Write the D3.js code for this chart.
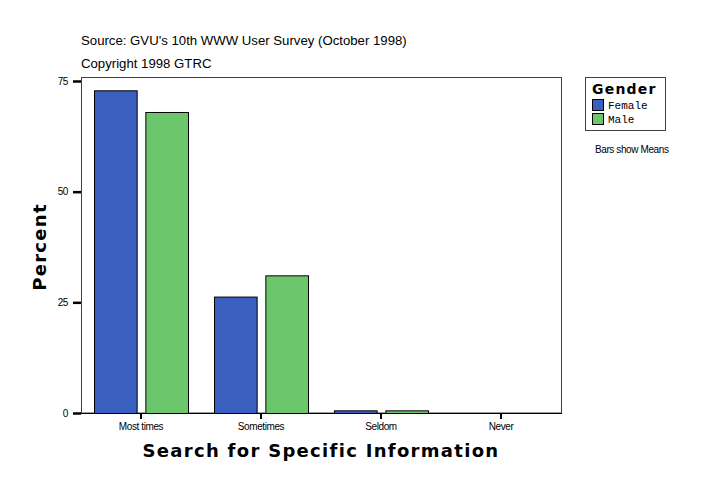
<!DOCTYPE html>
<html>
<head>
<meta charset="utf-8">
<script src="https://cdn.jsdelivr.net/npm/d3@7"></script>
<style>
  body { margin: 0; background: #fff; }
  svg { display: block; }
  .small { font-family: "Liberation Sans", Arial, sans-serif; font-size: 10px; letter-spacing: -0.4px; }
  .note { font-family: "Liberation Sans", Arial, sans-serif; font-size: 13.2px; letter-spacing: 0px; }
  .big { font-family: "DejaVu Sans", sans-serif; font-weight: 900; font-size: 18px; letter-spacing: 1.3px; }
</style>
</head>
<body>
<div id="chart"></div>
<script>
// chart data
const categories = ["Most times", "Sometimes", "Seldom", "Never"];
const groups = ["Female", "Male"];
const female = [72.9, 26.3, 0.6, 0];
const male = [68.0, 31.1, 0.6, 0];
const yTicks = [0, 25, 50, 75];
const colors = ["#3a5fbf", "#6cc76c"];

const W = 724, H = 496;
const m = { left: 81, right: 163, top: 81, bottom: 83 };

const svg = d3.select("#chart").append("svg")
    .attr("width", W)
    .attr("height", H);

const x = d3.scaleBand().domain(categories).range([m.left, W - m.right]).paddingInner(0).paddingOuter(0);
const xIn = d3.scaleBand().domain(groups).range([13, x.bandwidth() - 13]).paddingInner(0.17);
const y = d3.scaleLinear().domain([0, 75]).range([H - m.bottom, m.top]);

// plot frame
svg.append("rect")
    .attr("x", m.left + 0.5).attr("y", 77.5)
    .attr("width", W - m.right - m.left).attr("height", H - m.bottom - 77.5)
    .attr("fill", "none").attr("stroke", "#404040");

// bars
const rows = categories.map((c, i) => ({ cat: c, vals: [female[i], male[i]] }));
const g = svg.selectAll(".cat").data(rows).enter().append("g")
    .attr("class", "cat")
    .attr("transform", d => `translate(${x(d.cat)},0)`);

g.selectAll("rect")
    .data(d => d.vals.map((v, j) => ({ g: groups[j], v: v, j: j })))
    .enter().append("rect")
    .filter(d => d.v > 0)
    .attr("x", d => xIn(d.g) + 0.5)
    .attr("y", d => y(d.v) + 0.5)
    .attr("width", xIn.bandwidth())
    .attr("height", d => y(0) - y(d.v))
    .attr("fill", d => colors[d.j])
    .attr("stroke", "#000")
    .attr("stroke-width", 1);

// y axis
const yAxis = svg.append("g")
    .attr("transform", `translate(${m.left},0)`)
    .call(d3.axisLeft(y).tickValues(yTicks).tickSize(8).tickPadding(5));
yAxis.select(".domain").remove();
yAxis.selectAll("line").attr("stroke-width", 2.5).attr("stroke", "#000");
yAxis.selectAll("text").attr("class", "small").attr("font-size", null).attr("font-family", null);

// x axis
const xAxis = svg.append("g")
    .attr("transform", `translate(0,${H - m.bottom})`)
    .call(d3.axisBottom(x).tickSize(6).tickPadding(4));
xAxis.select(".domain").attr("stroke", "#000").attr("d", `M${m.left},0.5H${W - m.right + 1}`);
xAxis.selectAll(".tick line").attr("stroke-width", 2).attr("stroke", "#000");
xAxis.selectAll("text").attr("class", "small").attr("font-size", null).attr("font-family", null);

// titles
svg.append("text").attr("class", "note").attr("x", 81).attr("y", 45)
    .text("Source: GVU's 10th WWW User Survey (October 1998)");
svg.append("text").attr("class", "note").attr("x", 81).attr("y", 68)
    .text("Copyright 1998 GTRC");

svg.append("text").attr("class", "big")
    .attr("x", 321).attr("y", 457).attr("text-anchor", "middle")
    .text("Search for Specific Information");
svg.append("text").attr("class", "big")
    .attr("transform", "translate(46,247) rotate(-90)").attr("text-anchor", "middle")
    .text("Percent");

// legend
const lg = svg.append("g").attr("transform", "translate(585,77)");
lg.append("rect").attr("x", 0.5).attr("y", 0.5).attr("width", 80).attr("height", 53)
    .attr("fill", "#fff").attr("stroke", "#404040");
lg.append("text").attr("x", 7).attr("y", 17)
    .attr("font-family", "DejaVu Sans, sans-serif").attr("font-weight", 900)
    .attr("font-size", 14).attr("letter-spacing", 1.2).text("Gender");
const li = lg.selectAll(".li").data(groups).enter().append("g")
    .attr("transform", (d, i) => `translate(7,${22 + i * 14})`);
li.append("rect").attr("x", 0.5).attr("y", 0.5).attr("width", 11).attr("height", 11)
    .attr("fill", (d, i) => colors[i]).attr("stroke", "#000");
li.append("text").attr("x", 16).attr("y", 9.5)
    .attr("font-family", "Liberation Mono, DejaVu Sans Mono, monospace")
    .attr("font-size", 11).text(d => d);

svg.append("text").attr("class", "small").attr("x", 595).attr("y", 153)
    .text("Bars show Means");
</script>
</body>
</html>
